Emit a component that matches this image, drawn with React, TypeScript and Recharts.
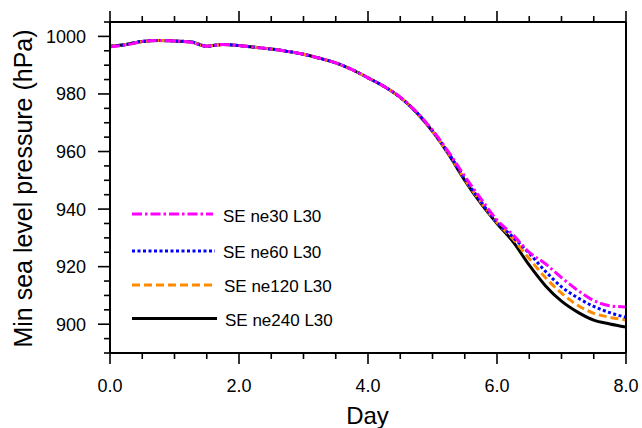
import React from 'react';
import { LineChart, Line, XAxis, YAxis } from 'recharts';

const days = [0, 0.25, 0.5, 0.75, 1, 1.25, 1.5, 1.75, 2, 2.25, 2.5, 2.75, 3, 3.25, 3.5, 3.75, 4, 4.25, 4.5, 4.75, 5, 5.25, 5.5, 5.75, 6, 6.25, 6.5, 6.75, 7, 7.25, 7.5, 7.75, 8];

const ne30 = [996.4, 997.0, 998.2, 998.6, 998.4, 998.0, 996.6, 997.2, 996.8, 996.2, 995.6, 994.8, 993.8, 992.4, 990.8, 988.5, 985.6, 982.6, 978.9, 973.8, 967.4, 959.8, 951.4, 943.6, 936.2, 931.0, 925.0, 921.0, 916.2, 911.8, 908.2, 906.4, 906.0];
const ne60 = [996.6, 997.2, 998.3, 998.6, 998.4, 998.1, 996.6, 997.2, 996.8, 996.2, 995.6, 994.8, 993.8, 992.4, 990.8, 988.5, 985.6, 982.6, 978.8, 973.7, 967.2, 959.4, 950.6, 942.6, 935.5, 930.2, 924.6, 918.4, 913.0, 909.2, 906.2, 904.0, 902.4];
const ne120 = [996.6, 997.2, 998.2, 998.6, 998.4, 998.1, 996.6, 997.2, 996.8, 996.2, 995.6, 994.8, 993.8, 992.4, 990.8, 988.5, 985.6, 982.6, 978.8, 973.6, 967.0, 959.2, 950.4, 942.4, 935.3, 929.6, 922.8, 916.2, 910.8, 906.6, 903.8, 902.4, 901.5];
const ne240 = [996.6, 997.2, 998.2, 998.6, 998.4, 998.1, 996.6, 997.2, 996.8, 996.2, 995.6, 994.8, 993.8, 992.4, 990.8, 988.5, 985.6, 982.6, 978.8, 973.6, 967.0, 959.0, 950.0, 942.0, 935.0, 928.6, 920.5, 913.4, 908.0, 904.2, 901.4, 900.1, 899.0];

const seriesNames = ['SE ne30 L30', 'SE ne60 L30', 'SE ne120 L30', 'SE ne240 L30'];

const xTicks = [0, 0.5, 1, 1.5, 2, 2.5, 3, 3.5, 4, 4.5, 5, 5.5, 6, 6.5, 7, 7.5, 8];
const yTicks = [890, 895, 900, 905, 910, 915, 920, 925, 930, 935, 940, 945, 950, 955, 960, 965, 970, 975, 980, 985, 990, 995, 1000, 1005];

const data = days.map((d, i) => ({ day: d, ne30: ne30[i], ne60: ne60[i], ne120: ne120[i], ne240: ne240[i] }));

const FONT = '"Liberation Sans", Arial, Helvetica, sans-serif';

const styles = [
  { key: 'ne240', color: '#000000', dash: undefined as string | undefined },
  { key: 'ne120', color: '#ff8c00', dash: '8 4' },
  { key: 'ne60', color: '#0000ff', dash: '3 2.5' },
  { key: 'ne30', color: '#ff00ff', dash: '10 3 2.5 3' },
];

const renderXTick = (side: 'top' | 'bottom') => (p: any) => {
  const { x, y, payload } = p;
  const v = payload.value as number;
  const major = Math.abs(v / 2 - Math.round(v / 2)) < 1e-6;
  const len = major ? 11 : 6;
  const dir = side === 'top' ? -1 : 1;
  return (
    <g>
      <line x1={x} x2={x} y1={y} y2={y + dir * len} stroke="#000" strokeWidth={1.6} />
      {side === 'bottom' && major && (
        <text x={x} y={y + 39} textAnchor="middle" fontSize={18} fontFamily={FONT} fill="#000">
          {v.toFixed(1)}
        </text>
      )}
    </g>
  );
};

const renderYTick = (side: 'left' | 'right') => (p: any) => {
  const { x, y, payload } = p;
  const v = payload.value as number;
  const major = v % 20 === 0;
  const len = major ? 12 : 6;
  const dir = side === 'left' ? -1 : 1;
  return (
    <g>
      <line x1={x} x2={x + dir * len} y1={y} y2={y} stroke="#000" strokeWidth={1.6} />
      {side === 'left' && major && (
        <text x={x - 24} y={y + 6.5} textAnchor="end" fontSize={18} fontFamily={FONT} fill="#000">
          {v}
        </text>
      )}
    </g>
  );
};

const legendRows = [
  { name: seriesNames[0], color: '#ff00ff', dash: '10 3 2.5 3', ly: 214, ty: 221.5, x2: 213, tx: 223 },
  { name: seriesNames[1], color: '#0000ff', dash: '3 2.5', ly: 251, ty: 258, x2: 215, tx: 223 },
  { name: seriesNames[2], color: '#ff8c00', dash: '8 4', ly: 285, ty: 291.5, x2: 216, tx: 224 },
  { name: seriesNames[3], color: '#000000', dash: undefined as string | undefined, ly: 318.5, ty: 326, x2: 217, tx: 225 },
];

const LX = 120;
const LY = 195;

const LegendBox = () => (
  <svg width={240} height={150} style={{ display: 'block', position: 'absolute', left: LX, top: LY }}>
    {legendRows.map((r) => (
      <g key={r.name}>
        <line x1={132 - LX} x2={r.x2 - LX} y1={r.ly - LY} y2={r.ly - LY} stroke={r.color} strokeWidth={3} strokeDasharray={r.dash} />
        <text x={r.tx - LX} y={r.ty - LY} fontSize={17} fontFamily={FONT} fill="#000">
          {r.name}
        </text>
      </g>
    ))}
  </svg>
);

export default function App() {
  return (
    <div style={{ position: 'absolute', left: 0, top: 0, width: 642, height: 428, background: '#fff' }}>
      <LineChart width={642} height={428} data={data} margin={{ top: 0, right: 0, bottom: 0, left: 0 }}>
        <XAxis
          xAxisId="bottom"
          dataKey="day"
          type="number"
          domain={[0, 8]}
          ticks={xTicks}
          interval={0}
          orientation="bottom"
          height={75}
          tickSize={0}
          tickMargin={0}
          tickLine={false}
          axisLine={{ stroke: '#000', strokeWidth: 2 }}
          tick={renderXTick('bottom')}
          label={() => (
            <text x={367.5} y={424} textAnchor="middle" fontSize={24} fontFamily={FONT} fill="#000">
              Day
            </text>
          )}
        />
        <XAxis
          xAxisId="top"
          dataKey="day"
          type="number"
          domain={[0, 8]}
          ticks={xTicks}
          interval={0}
          orientation="top"
          height={22}
          tickSize={0}
          tickMargin={0}
          tickLine={false}
          axisLine={{ stroke: '#000', strokeWidth: 2 }}
          tick={renderXTick('top')}
        />
        <YAxis
          yAxisId="left"
          type="number"
          domain={[890, 1005]}
          ticks={yTicks}
          interval={0}
          orientation="left"
          width={110}
          tickSize={0}
          tickMargin={0}
          tickLine={false}
          axisLine={{ stroke: '#000', strokeWidth: 2 }}
          tick={renderYTick('left')}
          label={() => (
            <text
              transform="translate(32,188.5) rotate(-90)"
              x={0}
              y={0}
              textAnchor="middle"
              fontSize={25}
              fontFamily={FONT}
              fill="#000"
            >
              Min sea level pressure (hPa)
            </text>
          )}
        />
        <YAxis
          yAxisId="right"
          type="number"
          domain={[890, 1005]}
          ticks={yTicks}
          interval={0}
          orientation="right"
          width={16}
          tickSize={0}
          tickMargin={0}
          tickLine={false}
          axisLine={{ stroke: '#000', strokeWidth: 2 }}
          tick={renderYTick('right')}
        />
        {styles.map((s) => (
          <Line
            key={s.key}
            xAxisId="bottom"
            yAxisId="left"
            type="monotone"
            dataKey={s.key}
            stroke={s.color}
            strokeWidth={3}
            strokeDasharray={s.dash}
            dot={false}
            activeDot={false}
            isAnimationActive={false}
          />
        ))}
      </LineChart>
      <LegendBox />
    </div>
  );
}
